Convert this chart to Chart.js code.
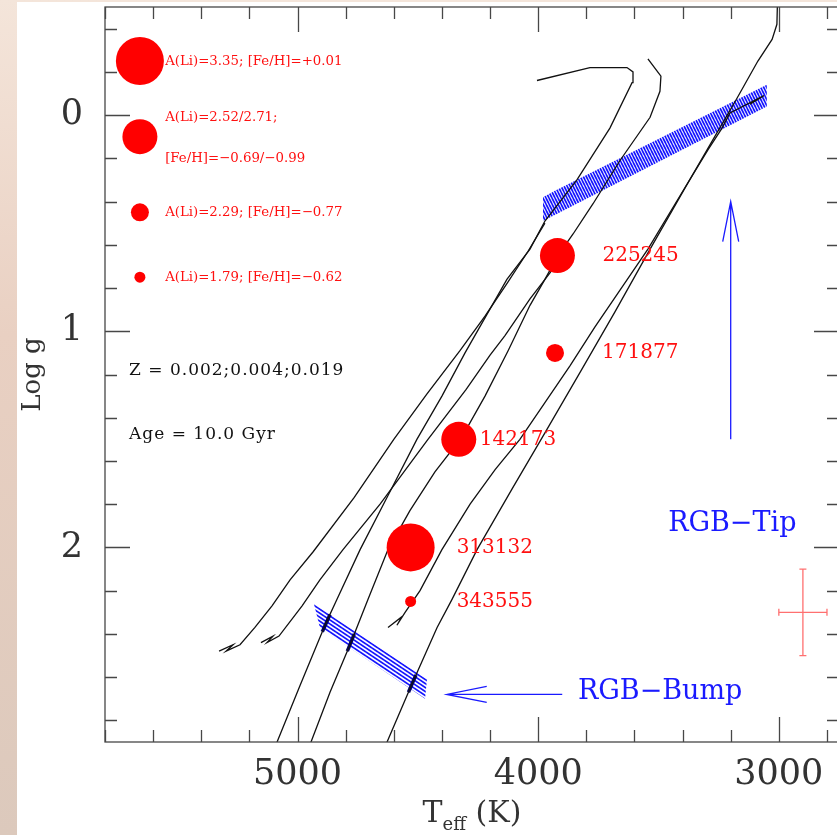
<!DOCTYPE html>
<html>
<head>
<meta charset="utf-8">
<title>Li-rich giants on 10 Gyr isochrones</title>
<script src="https://cdn.jsdelivr.net/npm/chart.js@4.4.1/dist/chart.umd.min.js"></script>
<style>
  html, body { margin: 0; padding: 0; overflow: hidden; }
  body {
    width: 837px; height: 835px;
    background: linear-gradient(180deg, #f4e5da 0%, #e9d0c2 40%, #dcc9bc 100%);
  }
  #hr { position: absolute; left: 0; top: 0; display: block; }
</style>
</head>
<body>
<canvas id="hr" width="860" height="835"></canvas>
<script>
// Teff / log g diagram: Padova-style isochrones (RGB + HB/AGB) for three
// metallicities, the RGB bump and tip loci, and the Li-rich giants.

// isochrone tracks as [Teff, log g]
const rgbZ002 = [
  [5122, 3.00], [5085, 2.90], [4990, 2.64], [4882, 2.35], [4836, 2.24], [4740, 2.01],
  [4624, 1.76], [4504, 1.50], [4400, 1.30], [4304, 1.10], [4217, 0.93], [4130, 0.76],
  [4034, 0.62], [3972, 0.49], [3839, 0.30], [3702, 0.06], [3610, -0.15], [3606, -0.20],
  [3631, -0.22], [3785, -0.22], [4005, -0.16]
];
const agbZ002 = [
  [5326, 2.48], [5268, 2.45], [5297, 2.48], [5239, 2.45], [5177, 2.37], [5106, 2.27],
  [5031, 2.15], [4935, 2.02], [4765, 1.77], [4600, 1.50], [4462, 1.29], [4325, 1.09],
  [4221, 0.93], [4130, 0.78], [4042, 0.63], [3972, 0.50]
];
const rgbZ004 = [
  [4978, 3.00], [4944, 2.90], [4865, 2.67], [4778, 2.44], [4707, 2.24], [4624, 2.01],
  [4533, 1.83], [4429, 1.65], [4317, 1.49], [4221, 1.30], [4125, 1.09], [4034, 0.88],
  [3972, 0.76], [3918, 0.65], [3855, 0.55], [3772, 0.41], [3660, 0.21], [3535, 0.01],
  [3494, -0.11], [3490, -0.18], [3544, -0.26]
];
const agbZ004 = [
  [5152, 2.44], [5102, 2.41], [5127, 2.44], [5077, 2.41], [4981, 2.27], [4907, 2.15],
  [4811, 2.01], [4657, 1.80], [4458, 1.50], [4300, 1.27], [4200, 1.11], [4138, 1.02],
  [4034, 0.85], [3951, 0.73], [3876, 0.61]
];
const rgbZ019 = [
  [4668, 3.00], [4628, 2.90], [4524, 2.63], [4420, 2.37], [4358, 2.24], [4254, 2.01],
  [4109, 1.73], [3972, 1.47], [3826, 1.19], [3681, 0.91], [3535, 0.62], [3386, 0.33],
  [3282, 0.13], [3178, -0.07], [3087, -0.25], [3028, -0.35], [3008, -0.42], [3004, -0.60]
];
const agbZ019 = [
  [4624, 2.37], [4566, 2.32], [4587, 2.36], [4553, 2.30], [4491, 2.20], [4400, 2.01],
  [4283, 1.80], [4179, 1.64], [4076, 1.50], [3972, 1.33], [3868, 1.16], [3764, 0.98],
  [3660, 0.81], [3544, 0.62], [3398, 0.35], [3294, 0.16], [3236, 0.06], [3203, -0.01],
  [3062, -0.09], [3120, -0.05]
];

// RGB bump marks on each isochrone
const bumpZ002 = [[4897, 2.39], [4865, 2.31]];
const bumpZ004 = [[4793, 2.48], [4764, 2.40]];
const bumpZ019 = [[4539, 2.67], [4508, 2.59]];

// shaded loci
const tipBand = [[3980, 0.49], [3980, 0.38], [3930, 0.35], [3050, -0.14], [3050, -0.04]];
const bumpBand = [[4932, 2.26], [4462, 2.61], [4470, 2.70], [4907, 2.37]];

// Li-rich stars
const starIds = ['225245', '171877', '142173', '313132', '343555'];
const starTeff = [3920, 3930, 4330, 4530, 4530];
const starLogg = [0.65, 1.10, 1.50, 2.00, 2.25];
const starGroup = [1, 2, 1, 0, 3];

// A(Li) key
const keyLines = [
  'A(Li)=3.35; [Fe/H]=+0.01',
  'A(Li)=2.52/2.71;',
  '[Fe/H]=\u22120.69/\u22120.99',
  'A(Li)=2.29; [Fe/H]=\u22120.77',
  'A(Li)=1.79; [Fe/H]=\u22120.62'
];
const keyLineLogg = [-0.25, 0.01, 0.20, 0.45, 0.75];
const keyDotLogg = [-0.25, 0.10, 0.45, 0.75];
const keyDotTeff = 5655;
const keyTextTeff = 5550;

const notes = ['Z = 0.002;0.004;0.019', 'Age = 10.0 Gyr'];
const noteLogg = [1.18, 1.48];
const noteTeff = 5700;

// typical error bar
const errTeff = 2900, errLogg = 2.30, errDTeff = 100, errDLogg = 0.2;

const tipArrow = [[3200, 1.50], [3200, 0.40]];
const bumpArrow = [[3900, 2.68], [4380, 2.68]];
const tipLabel = { text: 'RGB\u2212Tip', teff: 3460, logg: 1.89 };
const bumpLabel = { text: 'RGB\u2212Bump', teff: 3835, logg: 2.67 };

const teffMajor = [3000, 4000, 5000];
const loggMajor = [0, 1, 2];

// ---- styling ----
const SERIF = '"DejaVu Serif", "Liberation Serif", serif';
const RED = '#ff1010';
const BLUE = '#1a1aff';
const dotRadius = [24, 17.5, 9, 5.5];
const labelGap = [45, 47, 21, 46, 46];

const xy = (pts) => pts.map(([t, g]) => ({ x: t, y: g }));

function track(pts) {
  return {
    type: 'line', data: xy(pts), borderColor: '#111', borderWidth: 1.3,
    pointRadius: 0, fill: false, tension: 0, order: 1
  };
}
function bumpMark(pts) {
  return {
    type: 'line', data: xy(pts), borderColor: '#00006a', borderWidth: 3.5,
    pointRadius: 0, fill: false, order: 1
  };
}

// diagonal hatch tile: one stroke from (0,0) to (w,h), repeated
function hatchPattern(color, w, h, width) {
  const c = document.createElement('canvas');
  c.width = w; c.height = h;
  const g = c.getContext('2d');
  g.strokeStyle = color;
  g.lineWidth = width;
  for (const dx of [-w, 0, w]) {
    for (const dy of [-h, 0, h]) {
      g.beginPath();
      g.moveTo(dx, dy);
      g.lineTo(dx + w, dy + h);
      g.stroke();
    }
  }
  return g.createPattern(c, 'repeat');
}

const paper = {
  id: 'paper',
  beforeDraw(chart) {
    const { ctx } = chart;
    ctx.save();
    ctx.fillStyle = '#fff';
    ctx.fillRect(17, 2, chart.width, chart.height);
    ctx.restore();
  }
};

const bands = {
  id: 'bands',
  beforeDatasetsDraw(chart) {
    const { ctx, chartArea: a, scales: { x, y } } = chart;
    const fills = [hatchPattern('#1414ff', 3, 6, 1.7), hatchPattern('#1414ff', 6, 4, 1.7)];
    ctx.save();
    ctx.beginPath();
    ctx.rect(a.left, a.top, a.right - a.left, a.bottom - a.top);
    ctx.clip();
    [tipBand, bumpBand].forEach((band, k) => {
      ctx.beginPath();
      band.forEach(([t, g], i) => {
        const px = x.getPixelForValue(t), py = y.getPixelForValue(g);
        if (i === 0) ctx.moveTo(px, py); else ctx.lineTo(px, py);
      });
      ctx.closePath();
      ctx.fillStyle = fills[k];
      ctx.fill();
    });
    ctx.restore();
  }
};

const frame = {
  id: 'frame',
  afterDraw(chart) {
    const { ctx, chartArea: a, scales: { x, y } } = chart;
    ctx.save();
    ctx.strokeStyle = '#474747';
    ctx.lineWidth = 1.3;
    ctx.strokeRect(a.left, a.top, a.right - a.left, a.bottom - a.top);
    ctx.beginPath();
    x.ticks.forEach((t) => {
      const px = Math.round(x.getPixelForValue(t.value)) + 0.5;
      const len = teffMajor.includes(t.value) ? 25 : 12;
      ctx.moveTo(px, a.bottom); ctx.lineTo(px, a.bottom - len);
      ctx.moveTo(px, a.top); ctx.lineTo(px, a.top + len);
    });
    y.ticks.forEach((t) => {
      const py = Math.round(y.getPixelForValue(t.value)) + 0.5;
      const len = loggMajor.includes(t.value) ? 25 : 12;
      ctx.moveTo(a.left, py); ctx.lineTo(a.left + len, py);
      ctx.moveTo(a.right, py); ctx.lineTo(a.right - len, py);
    });
    ctx.stroke();

    // axis titles
    ctx.fillStyle = '#333';
    ctx.textBaseline = 'alphabetic';
    ctx.font = `30px ${SERIF}`;
    const wT = ctx.measureText('T').width;
    const wK = ctx.measureText(' (K)').width;
    ctx.font = `18px ${SERIF}`;
    const wSub = ctx.measureText('eff').width;
    const tx = (a.left + a.right) / 2 - (wT + wSub + wK) / 2;
    const ty = a.bottom + 80;
    ctx.font = `30px ${SERIF}`;
    ctx.textAlign = 'left';
    ctx.fillText('T', tx, ty);
    ctx.font = `18px ${SERIF}`;
    ctx.fillText('eff', tx + wT, ty + 8);
    ctx.font = `30px ${SERIF}`;
    ctx.fillText(' (K)', tx + wT + wSub, ty);

    ctx.save();
    ctx.translate(a.left - 72, (a.top + a.bottom) / 2);
    ctx.rotate(-Math.PI / 2);
    ctx.font = `26px ${SERIF}`;
    ctx.textAlign = 'center';
    ctx.textBaseline = 'middle';
    ctx.fillText('Log g', 0, 0);
    ctx.restore();
    ctx.restore();
  }
};

const notesLayer = {
  id: 'notesLayer',
  afterDatasetsDraw(chart) {
    const { ctx, scales: { x, y } } = chart;
    ctx.save();
    ctx.textAlign = 'left';
    ctx.textBaseline = 'middle';

    // star names
    ctx.fillStyle = RED;
    ctx.font = `20px ${SERIF}`;
    starIds.forEach((id, i) => {
      ctx.fillText(id, x.getPixelForValue(starTeff[i]) + labelGap[i], y.getPixelForValue(starLogg[i]));
    });

    // A(Li) key text
    ctx.font = `13.3px ${SERIF}`;
    keyLines.forEach((s, i) => {
      ctx.fillText(s, x.getPixelForValue(keyTextTeff), y.getPixelForValue(keyLineLogg[i]));
    });

    // model notes
    ctx.fillStyle = '#111';
    ctx.font = `17px ${SERIF}`;
    ctx.letterSpacing = '1px';
    notes.forEach((s, i) => {
      ctx.fillText(s, x.getPixelForValue(noteTeff), y.getPixelForValue(noteLogg[i]));
    });
    ctx.letterSpacing = '0px';

    // arrows and their labels
    ctx.strokeStyle = BLUE;
    ctx.fillStyle = BLUE;
    ctx.lineWidth = 1.3;
    const arrow = (pts, ux, uy) => {
      const x0 = x.getPixelForValue(pts[0][0]), y0 = y.getPixelForValue(pts[0][1]);
      const x1 = x.getPixelForValue(pts[1][0]), y1 = y.getPixelForValue(pts[1][1]);
      ctx.beginPath();
      ctx.moveTo(x0, y0); ctx.lineTo(x1, y1);
      // open head: 40 px back along the shaft, 8 px to each side
      ctx.moveTo(x1 - ux * 40 - uy * 8, y1 - uy * 40 - ux * 8);
      ctx.lineTo(x1, y1);
      ctx.lineTo(x1 - ux * 40 + uy * 8, y1 - uy * 40 + ux * 8);
      ctx.stroke();
    };
    arrow(tipArrow, 0, -1);
    arrow(bumpArrow, -1, 0);
    ctx.font = `27px ${SERIF}`;
    for (const lab of [tipLabel, bumpLabel]) {
      ctx.fillText(lab.text, x.getPixelForValue(lab.teff), y.getPixelForValue(lab.logg));
    }

    // error bar
    const ex = x.getPixelForValue(errTeff), ey = y.getPixelForValue(errLogg);
    const exl = x.getPixelForValue(errTeff + errDTeff), exr = x.getPixelForValue(errTeff - errDTeff);
    const eyt = y.getPixelForValue(errLogg - errDLogg), eyb = y.getPixelForValue(errLogg + errDLogg);
    ctx.strokeStyle = '#ff7070';
    ctx.beginPath();
    ctx.moveTo(exl, ey); ctx.lineTo(exr, ey);
    ctx.moveTo(ex, eyt); ctx.lineTo(ex, eyb);
    ctx.moveTo(exl, ey - 3.5); ctx.lineTo(exl, ey + 3.5);
    ctx.moveTo(exr, ey - 3.5); ctx.lineTo(exr, ey + 3.5);
    ctx.moveTo(ex - 3.5, eyt); ctx.lineTo(ex + 3.5, eyt);
    ctx.moveTo(ex - 3.5, eyb); ctx.lineTo(ex + 3.5, eyb);
    ctx.stroke();
    ctx.restore();
  }
};

const minorTeff = [];
for (let t = 2800; t <= 5800; t += 200) minorTeff.push(t);
const minorLogg = [];
for (let k = -2; k <= 14; k++) minorLogg.push(k / 5);

new Chart(document.getElementById('hr'), {
  type: 'scatter',
  data: {
    datasets: [
      {
        data: starTeff.map((t, i) => ({ x: t, y: starLogg[i] })),
        pointRadius: starGroup.map((g) => dotRadius[g]),
        backgroundColor: '#ff0000', borderWidth: 0, order: 0
      },
      {
        data: keyDotLogg.map((g) => ({ x: keyDotTeff, y: g })),
        pointRadius: dotRadius,
        backgroundColor: '#ff0000', borderWidth: 0, order: 0
      },
      track(rgbZ002), track(agbZ002),
      track(rgbZ004), track(agbZ004),
      track(rgbZ019), track(agbZ019),
      bumpMark(bumpZ002), bumpMark(bumpZ004), bumpMark(bumpZ019)
    ]
  },
  options: {
    responsive: false,
    animation: false,
    events: [],
    layout: { autoPadding: false, padding: { top: 7, right: 21, left: 0, bottom: 0 } },
    plugins: { legend: { display: false }, tooltip: { enabled: false } },
    scales: {
      x: {
        type: 'linear', min: 2750, max: 5800, reverse: true,
        grid: { display: false, drawTicks: false }, border: { display: false },
        afterBuildTicks: (s) => { s.ticks = minorTeff.map((v) => ({ value: v })); },
        afterFit: (s) => { s.height = 93; s.paddingLeft = 0; s.paddingRight = 0; },
        ticks: {
          autoSkip: false, maxRotation: 0, padding: 12, color: '#333',
          font: { family: SERIF, size: 35 },
          callback: (v) => (teffMajor.includes(v) ? String(v) : '')
        }
      },
      y: {
        type: 'linear', min: -0.5, max: 2.9, reverse: true,
        grid: { display: false, drawTicks: false }, border: { display: false },
        afterBuildTicks: (s) => { s.ticks = minorLogg.map((v) => ({ value: v })); },
        afterFit: (s) => { s.width = 105; s.paddingTop = 0; s.paddingBottom = 0; },
        ticks: {
          autoSkip: false, padding: 22, color: '#333',
          font: { family: SERIF, size: 35 },
          callback: (v) => (loggMajor.includes(v) ? String(v) : '')
        }
      }
    }
  },
  plugins: [paper, bands, frame, notesLayer]
});
</script>
</body>
</html>
